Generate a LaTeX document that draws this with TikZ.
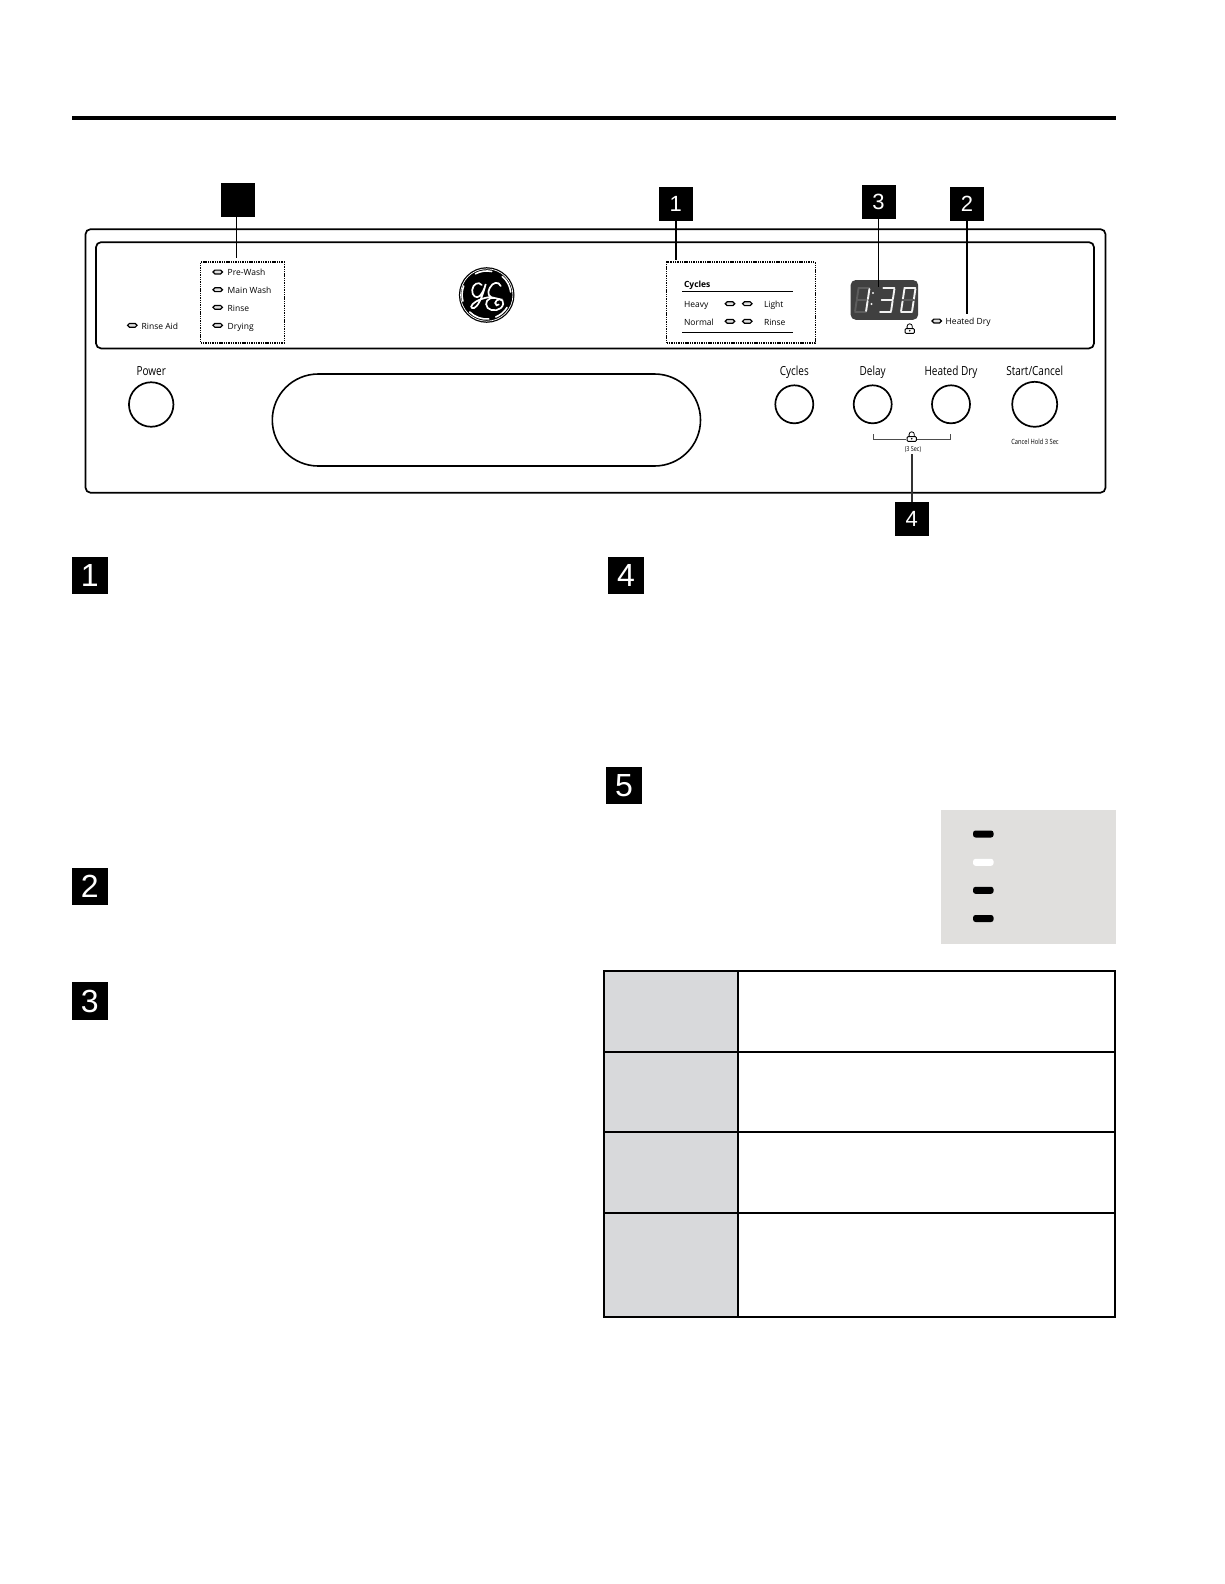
\documentclass[tikz,border=0pt]{standalone}
\usepackage{fontspec}
\setmainfont{Open Sans}
\newfontfamily\numfont{Liberation Sans}
\newfontfamily\condfont[FakeStretch=0.8]{Open Sans}
\definecolor{dispgrey}{HTML}{404040}
\definecolor{dimseg}{HTML}{5C5C5C}
\definecolor{litseg}{HTML}{F2F2F2}
\definecolor{boxgrey}{HTML}{E0DFDD}
\definecolor{cellgrey}{HTML}{D8D9DB}
\newcommand{\segT}[3]{\draw[seg,#3] (#1+3.4,#2) -- (#1+3.4+11,#2);}
\newcommand{\segM}[3]{\draw[seg,#3] (#1+1.7,#2+12) -- (#1+1.7+11,#2+12);}
\newcommand{\segB}[3]{\draw[seg,#3] (#1,#2+24) -- (#1+11,#2+24);}
\newcommand{\segTL}[3]{\draw[seg,#3] (#1+3.4,#2+1) -- (#1+1.9,#2+11);}
\newcommand{\segTR}[3]{\draw[seg,#3] (#1+14.4,#2+1) -- (#1+12.9,#2+11);}
\newcommand{\segBL}[3]{\draw[seg,#3] (#1+1.6,#2+13) -- (#1+0.1,#2+23);}
\newcommand{\segBR}[3]{\draw[seg,#3] (#1+12.6,#2+13) -- (#1+11.1,#2+23);}
\newcommand{\lockicon}[2]{%
  \draw[line width=0.8pt] (#1-2.6,#2+0.6) -- (#1-2.6,#2-1.6) arc (180:360:2.6) -- (#1+2.6,#2+0.6);
  \draw[line width=0.9pt,rounded corners=1pt,fill=white] (#1-4.6,#2+0.6) rectangle (#1+4.6,#2+5.4);
  \fill (#1,#2+2.8) circle (0.9);
}
\tikzset{
  every node/.style={inner sep=0pt,outer sep=0pt},
  seg/.style={line width=1.9pt,line cap=round},
  tagsq/.style={fill=black,text=white,minimum width=34,minimum height=34,font=\numfont\fontsize{22}{24}\selectfont},
  bigsq/.style={fill=black,text=white,minimum width=36,minimum height=37.5,font=\numfont\fontsize{32}{34}\selectfont},
  conn/.style={line width=1.4pt,black},
  panel/.style={line width=1.7pt,rounded corners=5},
  dotbox/.style={line width=1.1pt,dash pattern=on 1.4pt off 0.9pt},
  led/.style={draw,line width=1.2pt,rounded corners=1.9,minimum width=9.5,minimum height=3.8,fill=black!12},
  ledtext/.style={anchor=base west,yshift=-3.2pt,font=\fontsize{8.5}{10}\selectfont},
  btn/.style={circle,draw,line width=1.7pt,minimum size=38},
  bigbtn/.style={circle,draw,line width=1.7pt,minimum size=45},
  btntext/.style={anchor=base,yshift=-4pt,font=\condfont\fontsize{12.5}{14}\selectfont},
  bar/.style={fill=#1,rounded corners=2.5,minimum width=20.5,minimum height=7},
}
\begin{document}
\begin{tikzpicture}[x=1pt,y=-1pt]
\useasboundingbox (0,0) rectangle (1224,1584);
\fill[white] (0,0) rectangle (1224,1584);
% top rule
\fill[black] (72,115.7) rectangle (1116,119.7);
% panel
\draw[panel] (85.5,229.2) rectangle (1105.5,492.7);
\draw[panel] (96,242.2) rectangle (1094,348.4);
% dotted groups
\node[draw,dotbox,minimum width=83.3,minimum height=81] (statusbox) at (242.4,302.5) {};
\node[draw,dotbox,minimum width=148.3,minimum height=81] (cyclebox) at (740.9,302.5) {};
% rinse aid
\node[led] (ledra) at (132.3,325.3) {};
\node[ledtext] (tra) at (141.7,325.8) {Rinse Aid};
% status
\node[led] (leda) at (217.7,272) {};
\node[led] (ledb) at (217.7,289.7) {};
\node[led] (ledc) at (217.7,307.3) {};
\node[led] (ledd) at (217.7,325.3) {};
\node[ledtext] (ta) at (227.7,272.5) {Pre-Wash};
\node[ledtext] (tb) at (227.7,290.2) {Main Wash};
\node[ledtext] (tc) at (227.7,307.8) {Rinse};
\node[ledtext] (td) at (227.7,325.8) {Drying};
% logo
\begin{scope}[shift={(486.7,295)}]
  \fill[black] (0,0) circle (27.8);
  \draw[white,line width=0.7pt] (0,0) circle (26.2);
  \draw[white,line width=1.6pt,line cap=round] (24,-3) arc (-7:-50:24);
  \draw[white,line width=1.6pt,line cap=round] (-23,-9) arc (-159:-195:24.5);
  \draw[white,line width=1.6pt,line cap=round] (-17,17) arc (135:85:24);
  \draw[white,line width=1.6pt,line cap=round] (5,-23.5) arc (-78:-118:24);
  \draw[white,line width=1.6pt,line cap=round] (9,22) arc (68:32:24);
  % G
  \draw[white,line width=1.7pt,line cap=round]
    (-5,-10) .. controls (-8,-14) and (-14,-11) .. (-14.5,-5)
    .. controls (-15,1) and (-10,4) .. (-7,1)
    .. controls (-4,-2) and (-2,-7) .. (-1,-11)
    .. controls (-3,-3) and (-6,6) .. (-10,11)
    .. controls (-13,15) and (-18,13) .. (-14,9)
    .. controls (-10,5) and (-3,3) .. (3,2);
  % E
  \draw[white,line width=1.7pt,line cap=round]
    (14,-9) .. controls (12,-14) and (6,-13) .. (3,-7)
    .. controls (0,-2) and (2,3) .. (8,3)
    .. controls (1,2) and (-3,8) .. (1,13)
    .. controls (5,17) and (15,16) .. (16.5,9)
    .. controls (17.5,3) and (9,3) .. (8.5,8)
    .. controls (8.5,10.5) and (11,11) .. (12,9.5);
\end{scope}
% cycles
\node[anchor=base west,yshift=-3.2pt,font=\fontsize{8.5}{10}\bfseries\selectfont] (tcy) at (684,284.5) {Cycles};
\coordinate (cyl1a) at (682,291.7);
\coordinate (cyl1b) at (793,291.7);
\coordinate (cyl2a) at (682,332.4);
\coordinate (cyl2b) at (793,332.4);
\draw[line width=1.1pt] (cyl1a) -- (cyl1b);
\draw[line width=1.1pt] (cyl2a) -- (cyl2b);
\node[ledtext] (theavy) at (684,304.2) {Heavy};
\node[ledtext] (tnormal) at (684,321.8) {Normal};
\node[ledtext] (tlight) at (764,304.2) {Light};
\node[ledtext] (trinse) at (764,321.8) {Rinse};
\node[led] (lede) at (730,303.7) {};
\node[led] (ledf) at (747.3,303.7) {};
\node[led] (ledg) at (730,321.3) {};
\node[led] (ledh) at (747.3,321.3) {};
% display
\node[fill=dispgrey,rounded corners=5,minimum width=67.5,minimum height=39.7] (disp) at (884.4,299.9) {};
\begin{scope}
  \def\yy{288}
  \foreach \xx in {855}{
    \segT{\xx}{\yy}{dimseg}\segM{\xx}{\yy}{dimseg}\segB{\xx}{\yy}{dimseg}
    \segTL{\xx}{\yy}{dimseg}\segBL{\xx}{\yy}{dimseg}
    \segTR{\xx}{\yy}{litseg}\segBR{\xx}{\yy}{litseg}
  }
  \fill[litseg] (873,293) circle (1.1);
  \fill[litseg] (871.5,304) circle (1.1);
  \foreach \xx in {880}{
    \segT{\xx}{\yy}{litseg}\segM{\xx}{\yy}{litseg}\segB{\xx}{\yy}{litseg}
    \segTR{\xx}{\yy}{litseg}\segBR{\xx}{\yy}{litseg}
  }
  \foreach \xx in {901}{
    \segT{\xx}{\yy}{litseg}\segB{\xx}{\yy}{litseg}
    \segTL{\xx}{\yy}{litseg}\segBL{\xx}{\yy}{litseg}
    \segTR{\xx}{\yy}{litseg}\segBR{\xx}{\yy}{litseg}
    \segM{\xx}{\yy}{dimseg}
  }
\end{scope}
\lockicon{909.7}{328}
% heated dry led
\node[led] (ledhd) at (936.7,321) {};
\node[ledtext] (thd) at (945.7,321.5) {Heated Dry};
% buttons
\node[btntext] (tpower) at (151.2,371.5) {Power};
\node[draw,circle,line width=1.7pt,minimum size=44.5] (bpower) at (151.2,404.5) {};
\draw[line width=1.6pt,rounded corners=46] (272.3,374) rectangle (700.5,466);
\node[btntext] (tcyc) at (794.3,371.5) {Cycles};
\node[btn] (bcyc) at (794.3,404.3) {};
\node[btntext] (tdel) at (872.7,371.5) {Delay};
\node[btn] (bdel) at (872.7,404.3) {};
\node[btntext] (tdry) at (951,371.5) {Heated Dry};
\node[btn] (bdry) at (951,404.3) {};
\node[btntext] (tstart) at (1034.7,371.5) {Start/Cancel};
\node[bigbtn] (bstart) at (1034.7,404.3) {};
\node[font=\condfont\fontsize{7.2}{8}\selectfont] (thold) at (1035,441.5) {Cancel Hold 3 Sec};
% bracket
\draw[line width=0.8pt,black!70] (873.3,434) -- (873.3,439.7) -- (906,439.7);
\draw[line width=0.8pt,black!70] (917,439.7) -- (950.7,439.7) -- (950.7,434);
\lockicon{911.7}{436}
\node[font=\condfont\fontsize{6.8}{8}\selectfont] (tsec) at (913,449.7) {(3 Sec)};
% callouts
\node[tagsq] (sqblank) at (237.5,200) {};
\node[tagsq] (sqone) at (675.8,203.8) {1};
\node[tagsq] (sqthree) at (878.5,202) {3};
\node[tagsq] (sqtwo) at (967,203.8) {2};
\node[tagsq] (sqfour) at (911.8,519) {4};
\coordinate (endblank) at (236.7,258);
\coordinate (endone) at (675.8,260);
\coordinate (endthree) at (878.5,287);
\coordinate (endtwo) at (967,314);
\coordinate (endfour) at (911.8,454);
\draw[conn] (sqblank.south -| endblank) -- (endblank);
\draw[conn] (sqone.south) -- (endone);
\draw[conn] (sqthree.south) -- (endthree);
\draw[conn] (sqtwo.south) -- (endtwo);
\draw[conn,black!80] (sqfour.north) -- (endfour);
% section tags
\node[bigsq] (tagone) at (89.8,575.5) {1};
\node[bigsq] (tagtwo) at (89.8,886.5) {2};
\node[bigsq] (tagthree) at (89.8,1001) {3};
\node[bigsq] (tagfour) at (626,575.5) {4};
\node[bigsq] (tagfive) at (624,785.5) {5};
% grey indicator box
\node[fill=boxgrey,minimum width=174.6,minimum height=134] (greybox) at (1028.7,876.6) {};
\node[bar=black] (bara) at (983.3,834) {};
\node[bar=white] (barb) at (983.3,862.3) {};
\node[bar=black] (barc) at (983.3,890.3) {};
\node[bar=black] (bard) at (983.3,918.5) {};
% table
\fill[cellgrey] (604,971) rectangle (738,1316.7);
\draw[line width=2pt] (604,971) rectangle (1115,1316.7);
\draw[line width=2pt] (738,971) -- (738,1316.7);
\draw[line width=2pt] (604,1051.7) -- (1115,1051.7);
\draw[line width=2pt] (604,1132) -- (1115,1132);
\draw[line width=2pt] (604,1212.7) -- (1115,1212.7);
\end{tikzpicture}
\end{document}
